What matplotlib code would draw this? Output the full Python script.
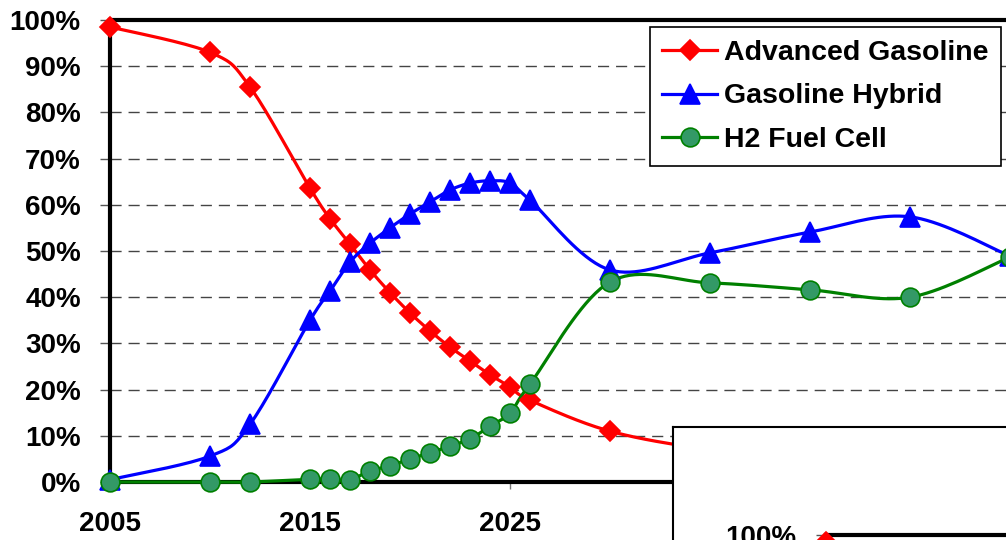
import numpy as np
import matplotlib
matplotlib.use("Agg")
import matplotlib.pyplot as plt
from matplotlib.ticker import FixedLocator, FuncFormatter

plt.rcParams['font.family'] = ['Liberation Sans', 'DejaVu Sans']
plt.rcParams['font.weight'] = 'bold'

# Data (share of new vehicle sales, %)
adv_years = [2005, 2010, 2012, 2015, 2016, 2017, 2018, 2019, 2020, 2021, 2022,
             2023, 2024, 2025, 2026, 2030, 2035, 2040, 2045, 2050]
adv_gas = [98.5, 93.0, 85.5, 63.6, 57.0, 51.5, 45.9, 41.0, 36.6, 32.7, 29.2,
           26.2, 23.2, 20.6, 17.7, 11.0, 7.0, 5.0, 3.5, 2.5]

hyb_years = adv_years
gas_hybrid = [0.5, 5.6, 12.5, 35.0, 41.3, 47.6, 51.7, 55.0, 58.0, 60.6, 63.2,
              64.7, 65.2, 64.7, 61.0, 45.9, 49.6, 54.1, 57.4, 48.9]

fc_years = adv_years
h2_fuel_cell = [0.0, 0.0, 0.0, 0.6, 0.6, 0.5, 2.4, 3.5, 5.0, 6.3, 7.8,
                9.3, 12.1, 14.9, 21.2, 43.3, 43.1, 41.6, 40.0, 48.7]

x_ticks = [2005, 2015, 2025, 2035, 2045]
x_labels = ['2005', '2015', '2025', '', '']   # 2035 / 2045 sit behind the inset box
y_ticks = [0, 10, 20, 30, 40, 50, 60, 70, 80, 90, 100]

W, H = 1006, 540


def smooth(xs, ys, yscale=0.231, n=20):
    """Excel-like smoothed line (Catmull-Rom through the points)."""
    p = np.column_stack([np.asarray(xs, float), np.asarray(ys, float) * yscale])
    p = np.vstack([p[0], p, p[-1]])
    out = []
    for i in range(1, len(p) - 2):
        p0, p1, p2, p3 = p[i - 1], p[i], p[i + 1], p[i + 2]
        c1 = p1 + (p2 - p0) / 6.0
        c2 = p2 - (p3 - p1) / 6.0
        t = np.linspace(0, 1, n)[:, None]
        seg = ((1 - t) ** 3) * p1 + 3 * ((1 - t) ** 2) * t * c1 + 3 * (1 - t) * t ** 2 * c2 + t ** 3 * p2
        out.append(seg)
    out = np.vstack(out)
    return out[:, 0], out[:, 1] / yscale


def draw_chart(ax):
    series = [
        (adv_years, adv_gas, 'Advanced Gasoline', '#FF0000', 'D', 10.5, '#FF0000', '#FF0000'),
        (hyb_years, gas_hybrid, 'Gasoline Hybrid', '#0000FF', '^', 14.5, '#0000FF', '#0000FF'),
        (fc_years, h2_fuel_cell, 'H2 Fuel Cell', '#008000', 'o', 13.5, '#339966', '#008000'),
    ]
    handles = []
    for xs, ys, name, col, mk, ms, fc, ec in series:
        sx, sy = smooth(xs, ys)
        ax.plot(sx, sy, color=col, lw=2.3, zorder=3, clip_on=False)
        ax.plot(xs, ys, ls='none', marker=mk, ms=ms, mfc=fc, mec=ec, mew=1.2,
                zorder=4, clip_on=False)
        h, = ax.plot([], [], color=col, lw=2.3, marker=mk, ms=ms, mfc=fc, mec=ec, mew=1.2)
        handles.append((h, name))

    ax.set_xlim(2005, 2050)
    ax.set_ylim(0, 100)
    ax.yaxis.set_major_locator(FixedLocator(y_ticks))
    ax.yaxis.set_major_formatter(FuncFormatter(lambda v, p: f"{int(v)}%"))
    ax.set_xticks(x_ticks)
    ax.set_xticklabels(x_labels)
    ax.tick_params(axis='y', labelsize=20, length=7, width=1, color='#555555', pad=14)
    ax.tick_params(axis='x', labelsize=20, length=5, width=1, color='#777777', pad=16)
    for lab in ax.get_xticklabels() + ax.get_yticklabels():
        lab.set_fontweight('bold')

    for y in y_ticks[1:-1]:
        ax.axhline(y, color='#444444', lw=1, dashes=(8, 5), zorder=1)

    for s in ['top', 'left', 'bottom']:
        ax.spines[s].set_linewidth(3)
        ax.spines[s].set_color('black')
    ax.spines['right'].set_visible(False)
    return handles


fig = plt.figure(figsize=(W / 100, H / 100), dpi=100)
fig.patch.set_facecolor('white')

# main chart
ax = fig.add_axes([110 / W, (H - 482) / H, 900 / W, 462 / H])
handles = draw_chart(ax)

leg = fig.legend([h for h, _ in handles], [n for _, n in handles],
                 loc='upper right', bbox_to_anchor=(1001 / W, 1 - 27 / H),
                 bbox_transform=fig.transFigure,
                 prop={'weight': 'bold', 'size': 20.5},
                 frameon=True, fancybox=False, edgecolor='black', framealpha=1,
                 handlelength=1.9, handletextpad=0.25, labelspacing=0.62,
                 borderpad=0.45, borderaxespad=0)
leg.get_frame().set_linewidth(1.2)
leg.set_zorder(10)

# overlapping inset box (next chart, mostly cropped)
box = fig.add_axes([673 / W, -0.6, 0.5, 0.6 + (H - 427) / H])
box.set_xticks([])
box.set_yticks([])
for s in box.spines.values():
    s.set_linewidth(1.5)
    s.set_color('black')
box.set_zorder(20)

ax2 = fig.add_axes([826 / W, (H - 535) / H - 462 / H, 900 / W, 462 / H])
draw_chart(ax2)
ax2.set_xticklabels([])
ax2.yaxis.set_major_formatter(FuncFormatter(lambda v, p: "100%" if v == 100 else ""))
ax2.set_zorder(21)
ax2.patch.set_alpha(0)

fig.savefig('out.png', dpi=100)
